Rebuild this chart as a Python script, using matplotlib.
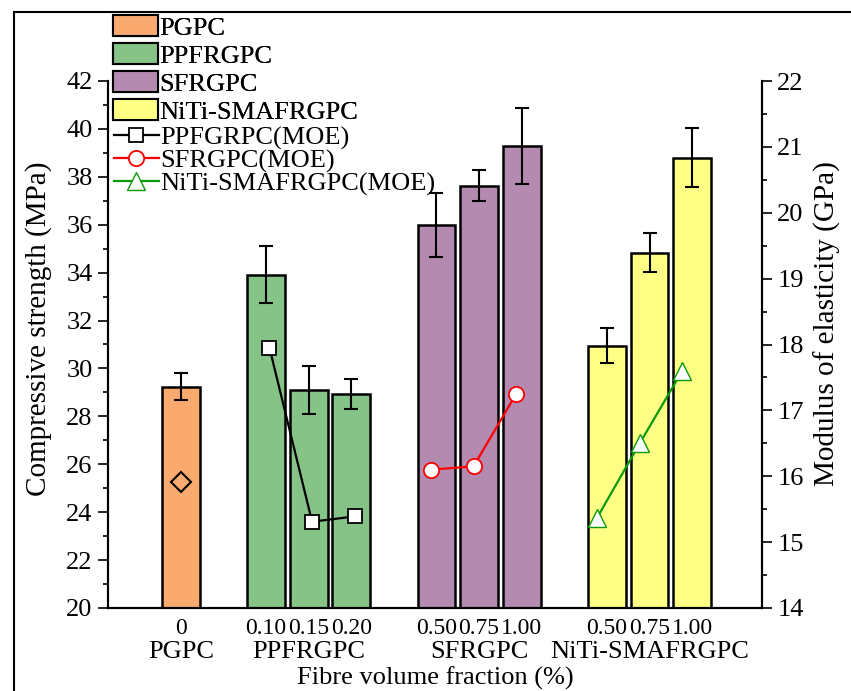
import numpy as np
import matplotlib
matplotlib.use("Agg")
import matplotlib.pyplot as plt
from matplotlib.lines import Line2D
from matplotlib.patches import Patch
import matplotlib.transforms as mtransforms

plt.rcParams["font.family"] = ["Liberation Serif", "DejaVu Serif"]

# ---- data ----
groups = ["PGPC", "PPFRGPC", "SFRGPC", "NiTi-SMAFRGPC"]
fractions = [["0"], ["0.10", "0.15", "0.20"], ["0.50", "0.75", "1.00"], ["0.50", "0.75", "1.00"]]
strength = [[29.24], [33.92, 29.10, 28.94], [35.99, 37.63, 39.29], [30.95, 34.84, 38.80]]
strength_err = [[0.56], [1.20, 1.00, 0.63], [1.35, 0.65, 1.60], [0.72, 0.80, 1.23]]

moe_pgpc = [15.91]
moe_ppf = [17.95, 15.31, 15.39]
moe_sf = [16.10, 16.15, 17.25]
moe_niti = [15.37, 16.50, 17.60]

colors = ["#FBAA6F", "#85C386", "#B48AB1", "#FFFF85"]

# bar positions: one slot per bar, empty slot between groups
pos = []
start = 0
for fr in fractions:
    pos.append(list(range(start, start + len(fr))))
    start += len(fr) + 1

fig = plt.figure(figsize=(8.51, 6.91), dpi=100)
ax = fig.add_axes([108 / 851, 83 / 691, 654 / 851, 527 / 691])
ax2 = ax.twinx()

for p, h, e, c in zip(pos, strength, strength_err, colors):
    ax.bar(p, h, width=0.89, color=c, edgecolor="black", linewidth=1.8, zorder=2)
    ax.errorbar(p, h, yerr=e, fmt="none", ecolor="black", elinewidth=1.5,
                capsize=5, capthick=1.5, zorder=3)

ax.set_xlim(-1.71, 13.64)
ax.set_ylim(20, 42)
ax.set_yticks(np.arange(20, 43, 2))
ax.set_yticks(np.arange(21, 42, 2), minor=True)

all_pos = [x for p in pos for x in p]
all_lab = [l for fr in fractions for l in fr]
ax.set_xticks(all_pos)
ax.set_xticklabels(all_lab, fontsize=17)
ax.tick_params(axis="x", length=0, pad=7)
ax.tick_params(axis="y", which="major", direction="out", length=7, width=1.2, labelsize=19, pad=4)
ax.tick_params(axis="y", which="minor", direction="out", length=3.5, width=1.2)

trans = mtransforms.blended_transform_factory(ax.transData, ax.transAxes)
for p, g in zip(pos, groups):
    ax.text(np.mean(p), -0.083, g, transform=trans, ha="center", va="center", fontsize=19)

ax.set_xlabel("Fibre volume fraction (%)", fontsize=19)
ax.xaxis.set_label_coords(0.5, -0.112)
ax.set_ylabel("Compressive strength (MPa)", fontsize=21)
ax.yaxis.set_label_coords(-0.086, 0.53)

# MOE on the right axis
ax2.plot(pos[0], moe_pgpc, ls="none", marker="D", ms=10, mfc="none", mec="black", mew=1.5, zorder=4)
l1, = ax2.plot(np.array(pos[1]) + 0.08, moe_ppf, color="black", lw=1.6, marker="s", ms=10,
               mfc="white", mec="black", mew=1.3, label="PPFGRPC(MOE)")
l2, = ax2.plot(np.array(pos[2]) - 0.13, moe_sf, color="#FF0000", lw=1.6, marker="o", ms=11,
               mfc="white", mec="#FF0000", mew=1.3, label="SFRGPC(MOE)")
l3, = ax2.plot(np.array(pos[3]) - 0.23, moe_niti, color="#0A9A0A", lw=1.6, marker="^", ms=13,
               mfc="white", mec="#0A9A0A", mew=1.0, label="NiTi-SMAFRGPC(MOE)")
ax2.set_ylim(14, 22)
ax2.set_yticks(np.arange(14, 23, 1))
ax2.set_yticks(np.arange(14.5, 22, 1), minor=True)
ax2.tick_params(axis="y", which="major", direction="out", length=7, width=1.2, labelsize=19, pad=4)
ax2.tick_params(axis="y", which="minor", direction="out", length=3.5, width=1.2)
ax2.set_ylabel("Modulus of elasticity (GPa)", fontsize=21)
ax2.yaxis.set_label_coords(1.0795, 0.54)

for a in (ax, ax2):
    a.spines["top"].set_visible(False)
    for s in ("left", "right", "bottom"):
        a.spines[s].set_linewidth(1.5)

# legends
patches = [Patch(facecolor=c, edgecolor="black", linewidth=1.5, label=g) for c, g in zip(colors, groups)]
leg1 = fig.legend(handles=patches, loc="upper left", bbox_to_anchor=(113 / 851, 1 - 15 / 691),
                  frameon=False, fontsize=19, handlelength=1.7, handleheight=0.86,
                  handletextpad=0.05, labelspacing=0.125, borderpad=0, borderaxespad=0)
leg2 = fig.legend(handles=[l1, l2, l3], loc="upper left", bbox_to_anchor=(114 / 851, 1 - 126 / 691),
                  frameon=False, fontsize=19, handlelength=1.7, handletextpad=0.05,
                  labelspacing=-0.04, borderpad=0, borderaxespad=0)
fig.add_artist(leg1)

# outer frame (top and left edges visible)
fig.add_artist(Line2D([14 / 851, 1], [1 - 12 / 691, 1 - 12 / 691], color="black", lw=1.5,
                      transform=fig.transFigure))
fig.add_artist(Line2D([14 / 851, 14 / 851], [0, 1 - 12 / 691], color="black", lw=1.5,
                      transform=fig.transFigure))

fig.savefig("out.png", dpi=100)
